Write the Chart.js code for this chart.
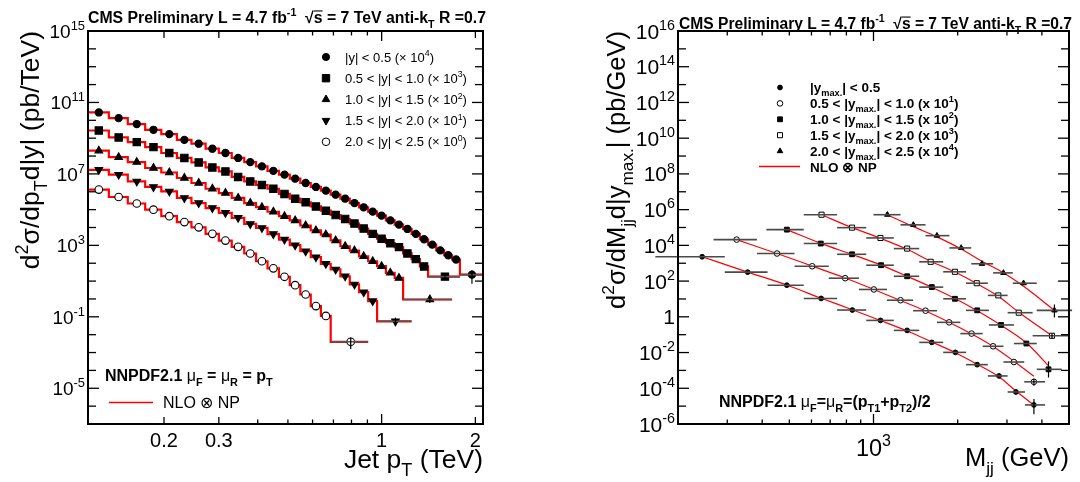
<!DOCTYPE html>
<html>
<head>
<meta charset="utf-8">
<script src="https://cdn.jsdelivr.net/npm/chart.js@4.4.1/dist/chart.umd.min.js"></script>
<style>
  html, body { margin: 0; padding: 0; background: #fff; }
  #wrap { position: relative; width: 1080px; height: 482px; }
  canvas { position: absolute; top: 0; }
</style>
</head>
<body>
<div id="wrap">
  <canvas id="leftChart" width="540" height="482" style="left:0"></canvas>
  <canvas id="rightChart" width="540" height="482" style="left:540px"></canvas>
</div>
<script>
// ---- left panel: inclusive jet pT spectra (TeV), five |y| bins, scaled ----
var ptEdgesY1 = [0.114, 0.133, 0.153, 0.174, 0.196, 0.220, 0.245, 0.272, 0.300, 0.330, 0.362, 0.395, 0.430, 0.468, 0.507, 0.548, 0.592, 0.638, 0.686, 0.737, 0.790, 0.846, 0.905, 0.967, 1.032, 1.101, 1.172, 1.248, 1.327, 1.410, 1.497, 1.588, 1.684, 1.784, 2.116];
var sigmaY1 = [2.75e10, 1.32e10, 6.2e9, 2.95e9, 1.7e9, 8.1e8, 4.9e8, 2.57e8, 1.48e8, 7.8e7, 4.6e7, 2.63e7, 1.48e7, 9.1e6, 5.4e6, 3.1e6, 1.86e6, 1.15e6, 6.9e5, 4.1e5, 2.34e5, 1.35e5, 7.8e4, 4.6e4, 2.5e4, 1.45e4, 8.3e3, 4.4e3, 2.2e3, 1.1e3, 525, 280, 162, 23];
var ptEdgesY2 = [0.114, 0.133, 0.153, 0.174, 0.196, 0.220, 0.245, 0.272, 0.300, 0.330, 0.362, 0.395, 0.430, 0.468, 0.507, 0.548, 0.592, 0.638, 0.686, 0.737, 0.790, 0.846, 0.905, 0.967, 1.032, 1.101, 1.172, 1.248, 1.327, 1.410, 1.784];
var sigmaY2 = [2.7e9, 1.1e9, 6.0e8, 3.16e8, 1.48e8, 7.8e7, 4.4e7, 2.3e7, 1.38e7, 6.8e6, 3.8e6, 2.4e6, 1.48e6, 7.6e5, 4.1e5, 2.57e5, 1.51e5, 8.7e4, 5.0e4, 3.0e4, 1.66e4, 8.7e3, 4.4e3, 2.34e3, 1.32e3, 795, 355, 170, 66, 17.8];
var ptEdgesY3 = [0.114, 0.133, 0.153, 0.174, 0.196, 0.220, 0.245, 0.272, 0.300, 0.330, 0.362, 0.395, 0.430, 0.468, 0.507, 0.548, 0.592, 0.638, 0.686, 0.737, 0.790, 0.846, 0.905, 0.967, 1.032, 1.101, 1.172, 1.684];
var sigmaY3 = [2.0e8, 8.7e7, 4.6e7, 2.14e7, 1.2e7, 5.9e6, 3.1e6, 1.48e6, 8.5e5, 4.5e5, 2.34e5, 1.38e5, 7.6e4, 4.3e4, 2.5e4, 1.29e4, 6.9e3, 4.0e3, 1.9e3, 890, 510, 245, 129, 68, 29, 15, 0.93];
var ptEdgesY4 = [0.114, 0.133, 0.153, 0.174, 0.196, 0.220, 0.245, 0.272, 0.300, 0.330, 0.362, 0.395, 0.430, 0.468, 0.507, 0.548, 0.592, 0.638, 0.686, 0.737, 0.790, 0.846, 0.905, 0.967, 1.248];
var sigmaY4 = [1.7e7, 9.1e6, 3.8e6, 1.86e6, 1.05e6, 4.5e5, 2.34e5, 1.23e5, 6.6e4, 3.5e4, 1.58e4, 9.5e3, 4.3e3, 2.1e3, 1.02e3, 470, 219, 93, 45, 18.6, 6.5, 2.4, 0.76, 0.056];
var ptEdgesY5 = [0.114, 0.133, 0.153, 0.174, 0.196, 0.220, 0.245, 0.272, 0.300, 0.330, 0.362, 0.395, 0.430, 0.468, 0.507, 0.548, 0.592, 0.638, 0.686, 0.905];
var sigmaY5 = [1.32e6, 5.1e5, 2.2e5, 1.0e5, 4.3e4, 2.0e4, 1.02e4, 4.4e3, 1.86e3, 830, 350, 129, 52, 17.4, 5.9, 1.78, 0.40, 0.112, 0.004];
// error bar on the last (widest) bin of each rapidity bin: [low, high]
var lastErrY = [[7, 40], [12, 24], [0.6, 1.3], [0.03, 0.09], [0.0016, 0.007]];
var legendLeft = ['|y| < 0.5 (\u00d7 10^{4})', '0.5 < |y| < 1.0 (\u00d7 10^{3})', '1.0 < |y| < 1.5 (\u00d7 10^{2})', '1.5 < |y| < 2.0 (\u00d7 10^{1})', '2.0 < |y| < 2.5 (\u00d7 10^{0})'];

// ---- right panel: dijet mass spectra (GeV), five |y_max| bins, scaled ----
var massA = [244, 355, 490, 650, 840, 1059, 1319, 1616, 1962, 2348, 2810, 3230, 3746];
var edgesA = [166, 294, 418, 563, 741, 942, 1182, 1457, 1775, 2142, 2564, 3017, 3480, 4107];
var dataA = [2.3e3, 316, 59, 10.7, 2.4, 0.63, 0.174, 0.037, 0.0102, 2.1e-3, 4.9e-4, 6.2e-5, 1.17e-5];
var nloA = [2.3e3, 320, 60, 11, 2.5, 0.62, 0.16, 0.039, 0.0098, 2.2e-3, 4.4e-4, 7.0e-5, 1.15e-5];
var massB = [324, 452, 604, 792, 1003, 1249, 1535, 1864, 2242, 2676, 3177, 3746];
var edgesB = [268, 383, 522, 692, 887, 1118, 1385, 1686, 2043, 2457, 2915, 3459, 4107];
var dataB = [2.1e4, 3.5e3, 676, 145, 34, 8.5, 2.2, 0.49, 0.115, 0.0224, 2.95e-3, 2.3e-4];
var nloB = [2.1e4, 3.5e3, 690, 150, 34, 8.2, 2.1, 0.50, 0.11, 0.022, 3.3e-3, 4.7e-4];
var massC = [490, 648, 838, 1064, 1319, 1616, 1955, 2348, 2858, 3520, 4224];
var edgesC = [414, 563, 741, 942, 1182, 1457, 1775, 2142, 2586, 3177, 3834, 4708];
var dataC = [7.6e4, 1.26e4, 3.16e3, 776, 186, 46, 10.2, 2.3, 0.35, 0.032, 1.15e-3];
var nloC = [7.6e4, 1.3e4, 3.1e3, 780, 185, 45, 10.5, 2.2, 0.34, 0.035, 1.8e-3];
var massD = [652, 838, 1059, 1319, 1601, 1955, 2340, 2794, 3306, 4347];
var edgesD = [563, 741, 942, 1182, 1457, 1775, 2142, 2564, 3017, 3706, 4958];
var dataD = [5.2e5, 9.8e4, 2.6e4, 6.6e3, 1.2e3, 331, 76, 15.8, 1.7, 0.087];
var nloD = [5.2e5, 9.8e4, 2.5e4, 6.0e3, 1.3e3, 320, 72, 14, 1.8, 0.087];
var massE = [1121, 1388, 1686, 2058, 2442, 2915, 3440, 4435];
var edgesE = [1000, 1249, 1535, 1868, 2236, 2676, 3148, 3834, 5129];
var dataE = [5.2e5, 1.41e5, 3.5e4, 7.2e3, 933, 288, 76, 2.3];
var nloE = [5.2e5, 1.12e5, 3.0e4, 6.3e3, 1.3e3, 290, 51, 2.3];
var lastErrM = [[3.5e-6, 2.5e-5], [1.4e-4, 3.4e-4], [4e-4, 3.2e-3], [0.06, 0.12], [0.93, 4.9]];
var legendRight = ['|y_{max.}| < 0.5', '0.5 < |y_{max.}| < 1.0 (x 10^{1})', '1.0 < |y_{max.}| < 1.5 (x 10^{2})', '1.5 < |y_{max.}| < 2.0 (x 10^{3})', '2.0 < |y_{max.}| < 2.5 (x 10^{4})'];

// ---- axis decoration ----
var leftXLabels = [0.2, 0.3, 1, 2];
var leftXMinor = [0.4, 0.5, 0.6, 0.7, 0.8, 0.9];
var leftYLabels = [15, 11, 7, 3, -1, -5];
var rightXLabels = [1000];
var rightXMinor = [300, 400, 500, 600, 700, 800, 900, 2000, 3000, 4000];
var rightYLabels = [16, 14, 12, 10, 8, 6, 4, 2, 0, -2, -4, -6];

var FONT = '"Liberation Sans", Arial, Helvetica, sans-serif';
var header = 'CMS Preliminary L = 4.7 fb^{-1}  \u221a!{s} = 7 TeV anti-k_{T} R =0.7';

// tiny markup: ^{sup} _{sub} !{overline} #{regular inside bold}
function parse(str, bold) {
  var segs = [], re = /([\^_!#])\{([^}]*)\}/g, last = 0, m;
  while ((m = re.exec(str))) {
    if (m.index > last) segs.push({t: str.slice(last, m.index), m: 'n', b: bold});
    segs.push({t: m[2], m: {'^': 'u', '_': 'd', '!': 'o', '#': 'n'}[m[1]], b: m[1] === '#' ? false : bold});
    last = re.lastIndex;
  }
  if (last < str.length) segs.push({t: str.slice(last), m: 'n', b: bold});
  return segs;
}
function segFont(ctx, s, size) {
  var sz = (s.m === 'u' || s.m === 'd') ? size * 0.68 : size;
  ctx.font = (s.b ? 'bold ' : '') + sz.toFixed(1) + 'px ' + FONT;
  return ctx.measureText(s.t).width;
}
function rich(ctx, str, x, y, size, opts) {
  opts = opts || {};
  var segs = parse(str, !!opts.bold), total = 0, i;
  for (i = 0; i < segs.length; i++) total += segFont(ctx, segs[i], size);
  var cx = opts.align === 'right' ? x - total : opts.align === 'center' ? x - total / 2 : x;
  ctx.textAlign = 'left';
  ctx.textBaseline = 'alphabetic';
  ctx.fillStyle = opts.color || '#000';
  for (i = 0; i < segs.length; i++) {
    var s = segs[i], w = segFont(ctx, s, size);
    var dy = s.m === 'u' ? -size * 0.42 : s.m === 'd' ? size * 0.3 : 0;
    ctx.fillText(s.t, cx, y + dy);
    if (s.m === 'o') ctx.fillRect(cx, y - size * 0.8, w, Math.max(1, size * 0.07));
    cx += w;
  }
  return total;
}
function fitRich(ctx, str, x, y, width, opts) {
  var w = rich(document.createElement('canvas').getContext('2d'), str, 0, 0, 20, opts);
  rich(ctx, str, x, y, 20 * width / w, opts);
}
function seg(ctx, x1, y1, x2, y2) {
  ctx.beginPath(); ctx.moveTo(x1, y1); ctx.lineTo(x2, y2); ctx.stroke();
}
function marker(ctx, style, x, y, r, rot, open) {
  ctx.fillStyle = open ? '#fff' : '#000';
  ctx.strokeStyle = '#000';
  ctx.lineWidth = 1;
  Chart.helpers.drawPoint(ctx, {pointStyle: style, radius: r, rotation: rot || 0, borderWidth: 1}, x, y);
}

// ROOT-like frame with inward ticks on all four sides
function drawFrame(chart, d) {
  var ctx = chart.ctx, a = chart.chartArea, xs = chart.scales.x, ys = chart.scales.y;
  ctx.save();
  ctx.strokeStyle = '#000';
  ctx.lineWidth = 1.3;
  for (var e = d.yExp[0]; e <= d.yExp[1]; e++) {
    var py = ys.getPixelForValue(Math.pow(10, e));
    var len = d.yLabels.indexOf(e) >= 0 ? 11 : 8;
    seg(ctx, a.left, py, a.left + len, py);
    seg(ctx, a.right, py, a.right - len, py);
  }
  d.xLabels.concat(d.xMinor).forEach(function (v) {
    var px = xs.getPixelForValue(v);
    var len = d.xLabels.indexOf(v) >= 0 ? (v === d.xLong ? 10 : 7) : 4.5;
    seg(ctx, px, a.bottom, px, a.bottom - len);
    seg(ctx, px, a.top, px, a.top + len);
  });
  ctx.lineWidth = 2;
  ctx.strokeRect(a.left, a.top, a.right - a.left, a.bottom - a.top);
  // tick labels
  d.yLabels.forEach(function (e) {
    var py = ys.getPixelForValue(Math.pow(10, e));
    var txt = e === 0 ? '1' : '10^{' + e + '}';
    rich(ctx, txt, a.left - 3, py + d.ySize * 0.36, d.ySize, {align: 'right'});
  });
  d.xLabels.forEach(function (v) {
    var txt = d.xText ? d.xText(v) : String(v);
    rich(ctx, txt, xs.getPixelForValue(v), d.xBase, d.xSize, {align: 'center'});
  });
  ctx.restore();
}

// horizontal bin bars and vertical error bars stored on the datasets
var errBars = {
  id: 'errBars',
  afterDatasetsDraw: function (chart) {
    var ctx = chart.ctx, xs = chart.scales.x, ys = chart.scales.y;
    ctx.save();
    chart.data.datasets.forEach(function (ds) {
      if (!ds.xLo) return;
      ds.data.forEach(function (p, i) {
        if (ds.xLo[i] == null) return;
        var py = ys.getPixelForValue(p.y);
        ctx.strokeStyle = ds.barColor || '#333';
        ctx.lineWidth = 1.6;
        seg(ctx, xs.getPixelForValue(ds.xLo[i]), py, xs.getPixelForValue(ds.xHi[i]), py);
        if (ds.yErr && ds.yErr[i]) {
          ctx.strokeStyle = '#000';
          ctx.lineWidth = 1.2;
          var px = xs.getPixelForValue(p.x);
          seg(ctx, px, ys.getPixelForValue(ds.yErr[i][0]), px, ys.getPixelForValue(ds.yErr[i][1]));
        }
      });
    });
    ctx.restore();
  }
};

// ---------------- left chart ----------------
var leftSeries = [
  {edges: ptEdgesY1, vals: sigmaY1, style: 'circle', r: 3.6},
  {edges: ptEdgesY2, vals: sigmaY2, style: 'rect', r: 5.2},
  {edges: ptEdgesY3, vals: sigmaY3, style: 'triangle', r: 4.4},
  {edges: ptEdgesY4, vals: sigmaY4, style: 'triangle', r: 4.4, rot: 180},
  {edges: ptEdgesY5, vals: sigmaY5, style: 'circle', r: 3.8, open: true}
];
var leftSets = [];
leftSeries.forEach(function (s, k) {
  var n = s.vals.length;
  var steps = s.vals.map(function (v, i) { return {x: s.edges[i], y: v}; });
  steps.push({x: s.edges[n], y: s.vals[n - 1]});
  leftSets.push({data: steps, stepped: true, borderColor: '#ff0000', borderWidth: 2.2,
    pointRadius: 0, fill: false, order: 3});
  var pts = s.vals.map(function (v, i) { return {x: (s.edges[i] + s.edges[i + 1]) / 2, y: v}; });
  var xLo = s.vals.map(function () { return null; }), xHi = xLo.slice(), yErr = xLo.slice();
  xLo[n - 1] = s.edges[n - 1]; xHi[n - 1] = s.edges[n]; yErr[n - 1] = lastErrY[k];
  leftSets.push({data: pts, showLine: false, pointStyle: s.style, pointRadius: s.r,
    pointRotation: s.rot || 0, backgroundColor: s.open ? '#fff' : '#000', borderColor: '#000',
    borderWidth: 1.1, order: 1, xLo: xLo, xHi: xHi, yErr: yErr, barColor: '#555'});
});

var leftDecor = {
  id: 'leftDecor',
  afterDraw: function (chart) {
    var ctx = chart.ctx, a = chart.chartArea;
    drawFrame(chart, {yExp: [-7, 15], yLabels: leftYLabels, xLabels: leftXLabels, xMinor: leftXMinor,
      xLong: 1, ySize: 19, xSize: 20, xBase: 447});
    fitRich(ctx, header, a.left, 23, 397, {bold: true});
    leftSeries.forEach(function (s, i) {
      var cy = 57 + i * 21.2;
      marker(ctx, s.style, 326, cy, s.r, s.rot, s.open);
      rich(ctx, legendLeft[i], 345, cy + 4.6, 13);
    });
    rich(ctx, 'NNPDF2.1 #{\u03bc}_{F} = #{\u03bc}_{R} = p_{T}', 105, 381, 16, {bold: true});
    ctx.strokeStyle = '#ff0000'; ctx.lineWidth = 1.5;
    seg(ctx, 109, 402.5, 153, 402.5);
    rich(ctx, 'NLO \u2297 NP', 163, 408, 16);
    rich(ctx, 'Jet p_{T} (TeV)', a.right, 468, 26.5, {align: 'right'});
    ctx.save();
    ctx.translate(39, a.top);
    ctx.rotate(-Math.PI / 2);
    rich(ctx, 'd^{2}\u03c3/dp_{T}d|y| (pb/TeV)', 0, 0, 26.5, {align: 'right'});
    ctx.restore();
  }
};

new Chart(document.getElementById('leftChart').getContext('2d'), {
  type: 'line',
  data: {datasets: leftSets},
  options: {
    responsive: false,
    animation: false,
    devicePixelRatio: 1,
    layout: {padding: {left: 0, right: 57, top: 31, bottom: 0}},
    plugins: {legend: {display: false}, tooltip: {enabled: false}},
    scales: {
      x: {type: 'logarithmic', min: 0.114, max: 2.116, grid: {display: false}, border: {display: false},
        ticks: {display: false}, afterFit: function (s) { s.height = 58; }},
      y: {type: 'logarithmic', min: 1e-7, max: 1e15, grid: {display: false}, border: {display: false},
        ticks: {display: false}, afterFit: function (s) { s.width = 88; }}
    }
  },
  plugins: [errBars, leftDecor]
});

// ---------------- right chart ----------------
var rightSeries = [
  {m: massA, e: edgesA, d: dataA, t: nloA, style: 'circle', r: 2.4},
  {m: massB, e: edgesB, d: dataB, t: nloB, style: 'circle', r: 2.8, open: true},
  {m: massC, e: edgesC, d: dataC, t: nloC, style: 'rect', r: 3.4},
  {m: massD, e: edgesD, d: dataD, t: nloD, style: 'rect', r: 3.6, open: true},
  {m: massE, e: edgesE, d: dataE, t: nloE, style: 'triangle', r: 3.2}
];
var rightSets = [];
rightSeries.forEach(function (s, k) {
  var n = s.d.length;
  rightSets.push({data: s.t.map(function (v, i) { return {x: s.m[i], y: v}; }), borderColor: '#ff0000',
    borderWidth: 1.2, pointRadius: 0, fill: false, cubicInterpolationMode: 'monotone', order: 3});
  var yErr = s.d.map(function () { return null; });
  yErr[n - 1] = lastErrM[k];
  rightSets.push({data: s.d.map(function (v, i) { return {x: s.m[i], y: v}; }), showLine: false,
    pointStyle: s.style, pointRadius: s.r, backgroundColor: s.open ? '#fff' : '#000', borderColor: '#000',
    borderWidth: 1, order: 1, xLo: s.e.slice(0, n), xHi: s.e.slice(1), yErr: yErr, barColor: '#4a4a4a'});
});

var rightDecor = {
  id: 'rightDecor',
  afterDraw: function (chart) {
    var ctx = chart.ctx, a = chart.chartArea;
    drawFrame(chart, {yExp: [-6, 16], yLabels: rightYLabels, xLabels: rightXLabels, xMinor: rightXMinor,
      xLong: 1000, ySize: 21, xSize: 23.5, xBase: 456, xText: function () { return '10^{3}'; }});
    fitRich(ctx, header, a.left + 1, 29, 393, {bold: true});
    rightSeries.forEach(function (s, i) {
      var cy = 87.5 + i * 15.9;
      marker(ctx, s.style, 240, cy, s.r, 0, s.open);
      rich(ctx, legendRight[i], 270, cy + 4.5, 13.5, {bold: true});
    });
    ctx.strokeStyle = '#ff0000'; ctx.lineWidth = 1.3;
    seg(ctx, 219, 166.5, 260, 166.5);
    rich(ctx, 'NLO \u2297 NP', 270, 171.5, 13.5, {bold: true});
    rich(ctx, 'NNPDF2.1 #{\u03bc}_{F}=#{\u03bc}_{R}=(p_{T1}+p_{T2})/2', 179, 407, 16, {bold: true});
    rich(ctx, 'M_{jj} (GeV)', a.right, 466, 25.5, {align: 'right'});
    ctx.save();
    ctx.translate(85, a.top);
    ctx.rotate(-Math.PI / 2);
    rich(ctx, 'd^{2}\u03c3/dM_{jj}d|y_{max.}| (pb/GeV)', 0, 0, 25.5, {align: 'right'});
    ctx.restore();
  }
};

new Chart(document.getElementById('rightChart').getContext('2d'), {
  type: 'line',
  data: {datasets: rightSets},
  options: {
    responsive: false,
    animation: false,
    devicePixelRatio: 1,
    layout: {padding: {left: 0, right: 11, top: 31, bottom: 0}},
    plugins: {legend: {display: false}, tooltip: {enabled: false}},
    scales: {
      x: {type: 'logarithmic', min: 200, max: 5000, grid: {display: false}, border: {display: false},
        ticks: {display: false}, afterFit: function (s) { s.height = 58; }},
      y: {type: 'logarithmic', min: 1e-6, max: 1e16, grid: {display: false}, border: {display: false},
        ticks: {display: false}, afterFit: function (s) { s.width = 138; }}
    }
  },
  plugins: [errBars, rightDecor]
});
</script>
</body>
</html>
